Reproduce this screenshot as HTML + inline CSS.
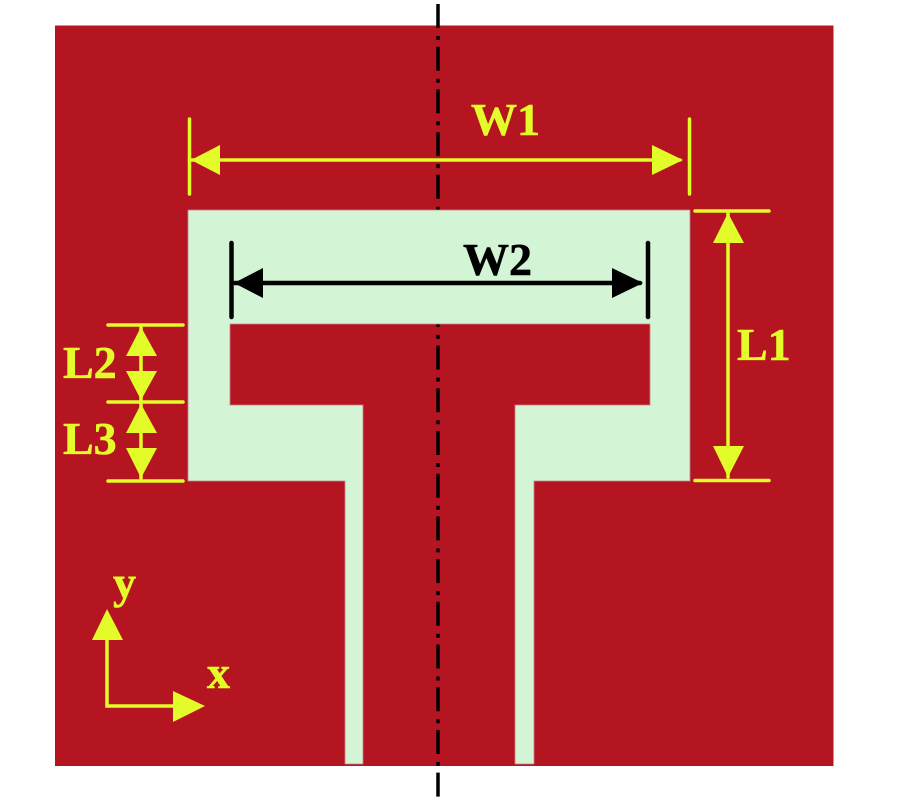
<!DOCTYPE html>
<html><head><meta charset="utf-8"><style>html,body{margin:0;padding:0;background:#fff}svg{display:block}text{font-family:"Liberation Serif",serif;font-weight:bold;font-size:46px;stroke-width:0.6px}</style></head><body>
<svg width="900" height="800" viewBox="0 0 900 800" xmlns="http://www.w3.org/2000/svg">
<rect x="55" y="25.5" width="778.5" height="740.5" fill="#b51520"/>
<line x1="438" y1="4" x2="438" y2="798" stroke="#000" stroke-width="3.5" stroke-dasharray="24 8 4 6.7"/>
<polygon points="188,210 690,210 690,481 534,481 534,764 515,764 515,405 650,405 650,324 230,324 230,405 363,405 363,764 345,764 345,481 188,481" fill="#d3f5d6" stroke="#c9808c" stroke-width="0.8"/>
<g stroke="#e4fb2a" fill="none" stroke-linecap="round">
<path stroke-width="3.500" d="M189.500 119V194M689.500 119V194M695 211H769M695 480.500H769M108 325H183M108 402H183M108 481H183"/>
<path stroke-width="3.500" d="M192 160H680M728 213V477M141 327V478M107 640V706H175"/>
</g>
<g fill="#e4fb2a">
<polygon points="191,160 220,145 220,175"/><polygon points="683,160 652,145 652,175"/>
<polygon points="728,213 713,243 744,243"/><polygon points="728,477 713,446 744,446"/>
<polygon points="141,327 126,356 157,356"/><polygon points="141,400 126,371 157,371"/>
<polygon points="141,404 126,433 157,433"/><polygon points="141,478 126,448 157,448"/>
<polygon points="107,609 92,640 123,640"/><polygon points="205,706 173,691 173,722"/>
</g>
<g stroke="#000" fill="none" stroke-linecap="round">
<path stroke-width="4.500" d="M231.500 243V317M648 243V317M235 283H640"/>
</g>
<g fill="#000">
<polygon points="234,283 263,268 263,298"/><polygon points="643,283 612,268 612,298"/>
</g>
<g fill="#e4fb2a" stroke="#e4fb2a">
<text x="471" y="135">W1</text>
<text x="63" y="378">L2</text>
<text x="63" y="454">L3</text>
<text x="737" y="360">L1</text>
<text x="113" y="598">y</text>
<text x="207" y="688">x</text>
</g>
<text x="463" y="275" fill="#000" stroke="#000">W2</text>
</svg>
</body></html>
